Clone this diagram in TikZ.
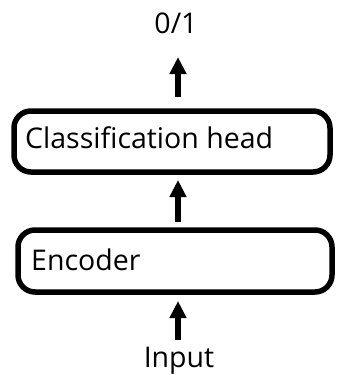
\documentclass[tikz,border=0pt]{standalone}
\usepackage{fontspec}
\setmainfont{Open Sans}
\usetikzlibrary{arrows.meta}
\begin{document}
\begin{tikzpicture}[x=1pt,y=-1pt,
  block/.style={draw=black, line width=5.5pt, rounded corners=17pt, inner sep=0pt},
  label/.style={font=\fontsize{28.5}{33}\selectfont, inner sep=0pt},
  flow/.style={line width=6pt, -{Triangle[width=16pt,length=17pt]}}]
  \useasboundingbox (0,0) rectangle (337,375);
  % stacked blocks
  \node[block, minimum width=316pt, minimum height=61pt] (head) at (172,141.5) {};
  \node[block, minimum width=314pt, minimum height=62pt] (enc) at (175,261) {};
  \node[label, anchor=base west] (headtxt) at (25,148.5) {Classification head};
  \node[label, anchor=base west] (enctxt) at (31,270) {Encoder};
  % input and output labels
  \node[label, anchor=base] (out) at (176,33) {0/1};
  \node[label, anchor=base] (in) at (179,367) {Input};
  \coordinate (outbase) at (178,97);
  \coordinate (inbase) at (178,340);
  \coordinate (midbase) at (178,222);
  % arrows
  \draw[flow] (outbase) -- (178,57);
  \draw[flow] (midbase) -- (178,180);
  \draw[flow] (inbase) -- (178,301);
\end{tikzpicture}
\end{document}
